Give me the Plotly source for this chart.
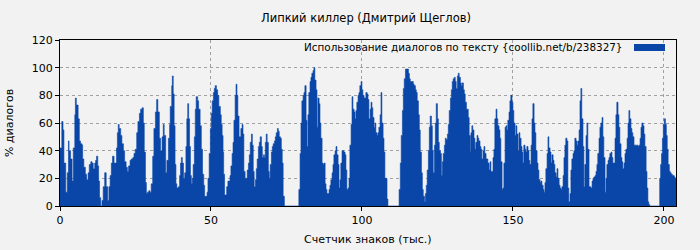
import plotly.graph_objects as go

# Character counter (thousands) and dialogue share (%)
X = [0.0,0.6,1.0,1.3,1.9,2.4,2.8,3.0,3.5,4.0,4.4,4.9,5.1,5.4,6.0,6.4,6.8,7.3,7.5,7.9,8.4,8.8,9.3,9.7,10.2,10.6,11.0,11.5,11.8,12.1,12.5,12.8,13.1,13.5,13.9,14.3,14.8,15.3,15.8,16.2,16.6,17.0,17.4,17.9,18.3,18.7,19.0,19.3,19.6,20.1,20.5,21.0,21.4,21.9,22.3,22.7,23.2,23.6,24.1,24.5,24.9,25.4,25.8,26.3,26.7,27.2,27.6,27.9,28.3,28.6,28.9,29.4,29.8,30.2,30.7,31.1,31.6,32.0,32.4,32.9,33.3,
     33.8,34.2,34.5,35.0,35.4,35.9,36.3,36.5,37.0,37.2,37.5,37.8,38.1,38.4,38.7,39.2,39.6,39.9,40.2,40.5,40.9,41.3,41.7,42.0,42.3,42.6,42.9,43.2,43.5,43.8,44.1,44.5,44.8,45.1,45.6,45.9,46.4,46.8,47.2,47.6,47.9,48.3,48.7,49.0,49.4,49.8,50.1,50.4,50.8,51.1,51.4,51.8,52.2,52.6,53.1,53.4,53.7,54.0,54.2,54.5,54.9,55.2,55.6,55.9,56.3,56.6,57.0,57.3,57.6,58.0,58.3,58.6,58.9,59.3,59.6,59.9,60.3,60.6,60.9,61.3,61.7,62.0,62.4,62.7,63.0,63.4,63.7,64.0,64.3,64.7,65.0,65.3,65.7,66.0,66.3,66.7,67.0,67.4,
     67.7,68.0,68.3,68.6,69.0,69.3,69.6,70.0,70.3,70.6,71.0,71.3,71.6,72.0,72.3,72.6,73.0,73.3,73.6,73.9,74.3,
     79.1,79.5,79.8,80.1,80.5,80.8,81.1,81.5,81.8,82.1,82.4,82.8,83.1,83.4,83.8,84.1,84.4,84.8,85.1,85.4,85.8,86.1,86.4,86.8,87.1,87.4,87.8,88.1,88.4,88.8,89.1,89.4,89.7,90.1,90.4,90.7,91.1,91.4,91.7,92.1,92.4,92.7,93.0,93.4,93.7,94.0,94.4,94.7,95.0,95.4,95.7,96.0,96.4,96.7,97.0,97.4,97.7,98.0,98.3,98.7,99.0,99.3,99.7,100.0,100.3,100.7,101.0,101.3,101.7,
     102.0,102.3,102.7,103.0,103.3,103.6,104.0,104.3,104.6,105.0,105.3,105.6,106.0,106.3,106.6,107.0,107.3,107.6,108.0,108.3,108.6,
     112.3,112.7,113.0,113.4,113.7,114.0,114.4,114.7,115.0,115.4,115.7,116.0,116.3,116.7,117.0,117.3,117.7,118.0,118.3,118.7,119.0,119.3,119.7,120.0,120.3,120.7,121.0,121.3,121.6,122.0,122.3,122.6,123.0,123.3,123.6,124.0,124.3,124.6,125.0,125.3,125.6,126.0,126.3,126.6,126.9,127.3,127.6,127.9,128.3,128.6,128.9,129.3,129.6,129.9,130.2,130.6,130.9,131.2,131.6,131.9,132.2,132.6,132.9,133.2,133.6,133.9,134.2,134.6,134.9,135.2,135.5,135.9,
     136.1,136.4,136.7,137.1,137.4,137.7,138.1,138.4,138.7,139.1,139.4,139.7,140.1,140.4,140.7,141.1,141.4,141.7,142.1,142.4,142.7,143.0,143.4,143.7,144.0,144.4,144.7,145.0,145.4,145.7,146.0,146.4,146.7,147.0,147.4,147.7,148.0,148.3,148.7,149.0,149.3,149.7,150.0,150.3,150.7,151.0,151.3,151.7,152.0,152.3,152.7,153.0,153.3,153.6,154.0,154.3,154.6,155.0,155.3,155.6,156.0,156.3,156.6,157.0,157.3,157.6,158.0,158.3,158.6,159.0,159.3,159.6,160.0,160.3,160.6,160.9,161.3,161.6,161.9,162.3,162.6,162.9,163.3,163.6,163.9,164.3,164.6,164.9,165.3,165.6,165.9,166.2,166.6,166.9,167.2,167.5,167.9,168.2,168.5,168.9,169.2,169.5,169.9,
     170.2,170.5,170.9,171.2,171.5,171.9,172.2,172.5,172.8,173.2,173.5,173.8,174.2,174.5,174.8,175.2,175.5,175.8,176.2,176.5,176.8,177.2,177.5,177.8,178.1,178.5,178.8,179.1,179.5,179.8,180.1,180.5,180.8,181.1,181.5,181.8,182.1,182.5,182.8,183.1,183.5,183.8,184.1,184.4,184.8,185.1,185.4,185.8,186.1,186.4,186.8,187.1,187.4,187.8,188.1,188.4,188.7,189.1,189.4,189.7,190.1,190.4,190.7,191.1,191.4,191.7,192.1,192.4,192.7,193.1,193.4,193.7,194.1,194.4,194.7,195.0,195.3,
     198.6,198.9,199.2,199.5,199.8,200.1,200.5,200.8,201.1,201.4,201.8,202.1,202.4,202.8,203.1,203.4,203.7,204.0]

Y = [42,61,55,31,10,24,47,40,34,18,42,66,78,73,63,47,45,44,34,28,23,19,24,30,32,31,27,31,33,36,29,18,6,0,4,14,24,14,4,14,22,31,36,31,31,42,53,59,56,51,45,40,32,28,25,29,33,34,35,38,41,53,61,67,70,71,60,39,17,9,10,11,10,16,36,56,68,77,68,49,40,
     50,59,51,24,33,49,59,72,87,94,81,58,30,16,13,14,22,31,35,31,20,24,43,63,74,63,43,22,16,20,30,50,70,79,76,70,58,41,23,15,7,7,10,20,38,56,67,76,82,85,87,84,80,72,66,59,51,39,23,8,8,14,18,18,22,29,38,46,62,80,88,80,65,50,50,56,59,52,25,20,20,26,31,37,46,52,44,25,14,19,27,34,43,46,50,43,35,37,
     35,46,52,46,25,20,30,39,43,45,47,50,53,56,54,50,49,41,31,7,0,
     12,38,60,76,80,82,87,62,43,66,82,90,93,96,98,100,91,84,57,78,74,60,49,31,30,31,16,12,9,9,12,15,19,24,30,37,40,43,37,30,13,19,31,40,40,39,37,26,12,13,20,44,59,79,70,68,63,69,75,80,82,87,90,84,80,78,78,82,81,
     77,63,70,75,71,64,57,60,53,51,53,57,66,82,60,49,39,20,20,5,0,
     12,31,51,69,85,92,99,99,99,96,92,90,90,90,88,87,84,82,76,66,55,39,24,12,7,3,9,15,26,40,57,65,58,40,24,44,60,74,63,46,40,38,22,32,38,44,49,48,52,59,69,78,84,90,92,93,90,85,94,96,93,89,87,89,84,81,75,70,70,64,51,39,
     53,58,55,49,41,46,51,49,47,43,41,34,40,43,38,34,34,31,26,32,25,25,35,41,63,70,63,58,55,49,32,12,13,31,57,58,55,62,68,76,80,75,69,60,51,58,52,40,53,49,43,39,31,44,41,39,43,40,33,30,44,63,74,60,53,40,31,26,19,17,18,15,12,10,17,27,38,50,42,39,31,37,33,30,24,21,27,20,15,13,12,14,22,35,44,49,47,13,3,9,26,34,38,
     40,49,47,44,47,55,76,85,63,43,14,30,51,60,41,14,14,13,18,20,21,22,25,30,38,49,57,60,64,50,35,10,20,30,33,35,38,39,35,31,31,49,66,75,66,57,45,35,32,27,31,38,41,49,60,69,63,56,53,50,44,44,44,44,43,44,49,57,60,58,52,43,25,13,3,1,0,
     20,30,38,49,59,63,59,51,41,30,25,24,23,22,22,21,20,20]

X_TICKS = [0, 50, 100, 150, 200]
Y_TICKS = [0, 20, 40, 60, 80, 100, 120]

TITLE = "Липкий киллер (Дмитрий Щеглов)"
X_TITLE = "Счетчик знаков (тыс.)"
Y_TITLE = "% диалогов"
SERIES = "Использование диалогов по тексту {coollib.net/b/238327}"

BLUE = "#0a46a8"
BG = "#f2f2f2"
FONT = "DejaVu Sans"

fig = go.Figure()
fig.add_trace(go.Scatter(
    x=X, y=Y, mode="lines", line_shape="hv",
    line=dict(width=0.6, color=BLUE), fill="tozeroy", fillcolor=BLUE,
    name=SERIES, showlegend=False, hoverinfo="x+y",
))

axis_common = dict(
    showline=True, linecolor="black", linewidth=1, mirror=True,
    showgrid=True, gridcolor="#a0a0a0", gridwidth=1, griddash="3px,3px",
    zeroline=False, ticks="outside", ticklen=4, tickcolor="black",
    tickfont=dict(family=FONT, size=11, color="black"), automargin=False,
)

PL, PR, PT, PB = 60, 676, 40, 206
PW, PH = PR - PL, PB - PT

fig.update_layout(
    width=700, height=250,
    margin=dict(l=PL, r=700 - PR, t=PT, b=250 - PB),
    paper_bgcolor=BG, plot_bgcolor=BG,
    font=dict(family=FONT, size=11, color="black"),
    title=dict(text=TITLE, x=366/700, xanchor="center", xref="container",
               y=1 - 18/250, yanchor="middle", yref="container",
               font=dict(family=FONT, size=11.5, color="black")),
    xaxis=dict(range=[0, 204], tickvals=X_TICKS, **axis_common),
    yaxis=dict(range=[0, 120], tickvals=Y_TICKS, **axis_common),
    showlegend=False,
    annotations=[
        dict(text=SERIES, xref="paper", yref="paper",
             x=(624 - PL) / PW, y=1 - 7 / PH, xanchor="right", yanchor="middle",
             showarrow=False, font=dict(family=FONT, size=10.4, color="black")),
        dict(text=X_TITLE, xref="paper", yref="paper",
             x=(368 - PL) / PW, y=(PB - 240) / PH, xanchor="center", yanchor="middle",
             showarrow=False, font=dict(family=FONT, size=11, color="black")),
        dict(text=Y_TITLE, xref="paper", yref="paper", textangle=-90,
             x=(9 - PL) / PW, y=(PB - 123) / PH, xanchor="center", yanchor="middle",
             showarrow=False, font=dict(family=FONT, size=11, color="black")),
    ],
    shapes=[dict(type="rect", xref="paper", yref="paper",
                 x0=(634 - PL) / PW, x1=(665 - PL) / PW, y0=1 - 11 / PH, y1=1 - 4 / PH,
                 fillcolor=BLUE, line=dict(width=0))],
)

fig.write_html("out.html")
